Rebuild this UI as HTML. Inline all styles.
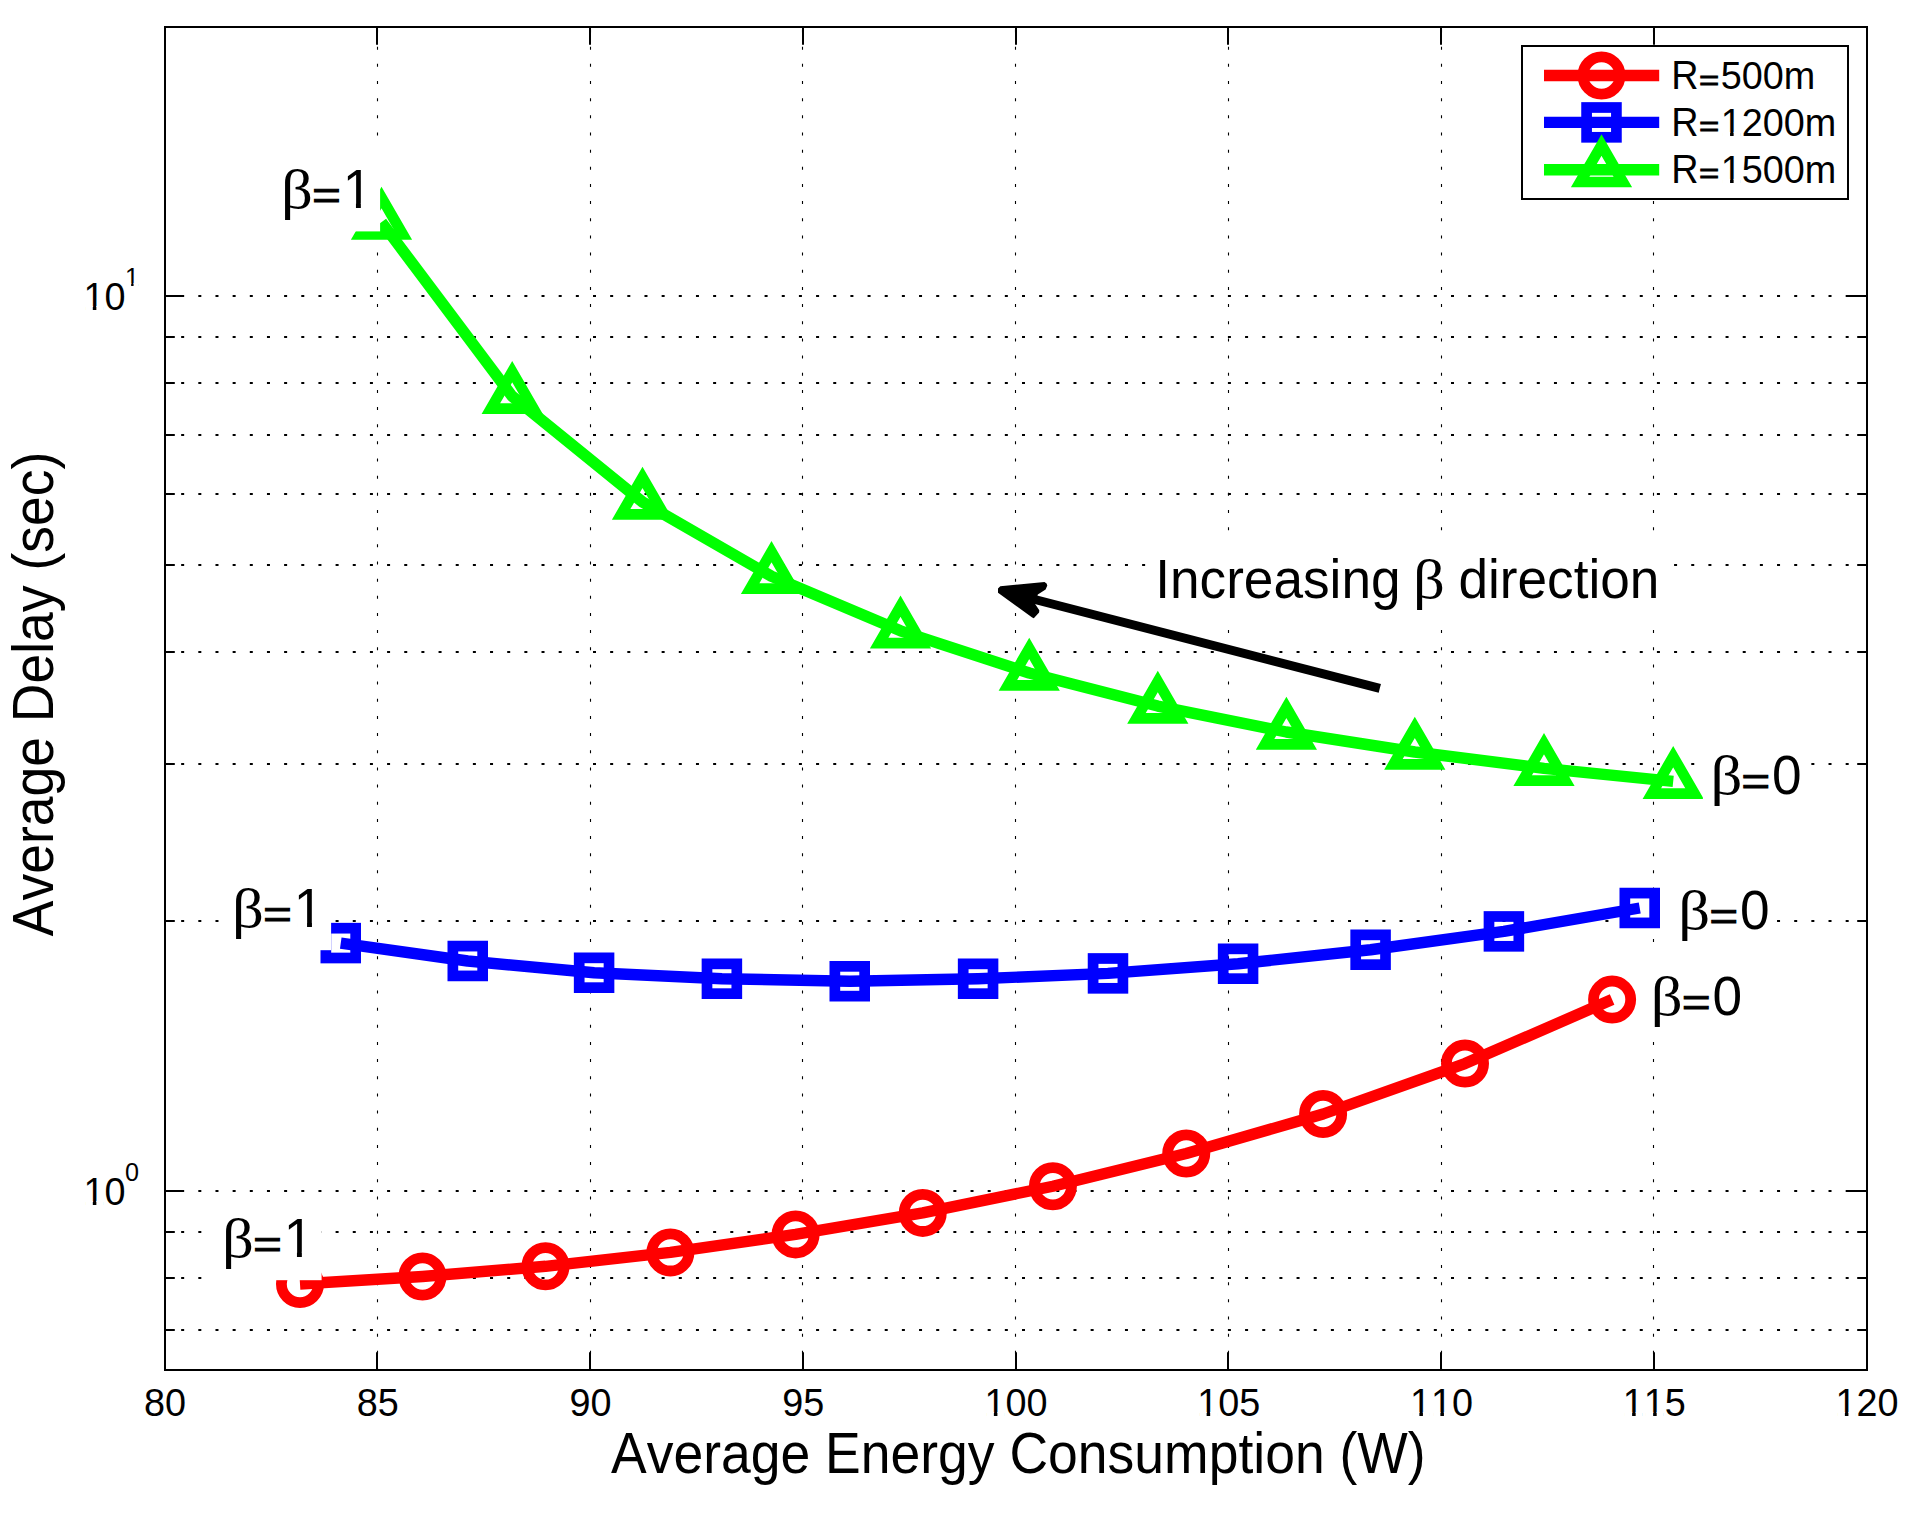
<!DOCTYPE html>
<html><head><meta charset="utf-8"><title>Average Delay vs Average Energy Consumption</title>
<style>html,body{margin:0;padding:0;background:#fff}svg{display:block}text{font-family:"Liberation Sans",sans-serif;fill:#000;font-kerning:none;font-variant-ligatures:none}.sym{font-family:"Liberation Serif","DejaVu Serif",serif}</style></head><body>
<svg width="1910" height="1516" viewBox="0 0 1910 1516">
<rect x="0" y="0" width="1910" height="1516" fill="#fff"/>
<g stroke="#000" fill="none">
<line x1="377.50" y1="1371.00" x2="377.50" y2="27.00" stroke-width="1.1" stroke-dasharray="3 14.16"/>
<line x1="590.50" y1="1371.00" x2="590.50" y2="27.00" stroke-width="1.1" stroke-dasharray="3 14.16"/>
<line x1="802.50" y1="1371.00" x2="802.50" y2="27.00" stroke-width="1.1" stroke-dasharray="3 14.16"/>
<line x1="1015.50" y1="1371.00" x2="1015.50" y2="27.00" stroke-width="1.1" stroke-dasharray="3 14.16"/>
<line x1="1228.50" y1="1371.00" x2="1228.50" y2="27.00" stroke-width="1.1" stroke-dasharray="3 14.16"/>
<line x1="1441.50" y1="1371.00" x2="1441.50" y2="27.00" stroke-width="1.1" stroke-dasharray="3 14.16"/>
<line x1="1653.50" y1="1371.00" x2="1653.50" y2="27.00" stroke-width="1.1" stroke-dasharray="3 14.16"/>
<line x1="181.16" y1="1330.00" x2="1867.00" y2="1330.00" stroke-width="2" stroke-dasharray="3 14.16"/>
<line x1="181.16" y1="1278.00" x2="1867.00" y2="1278.00" stroke-width="2" stroke-dasharray="3 14.16"/>
<line x1="181.16" y1="1232.00" x2="1867.00" y2="1232.00" stroke-width="2" stroke-dasharray="3 14.16"/>
<line x1="181.16" y1="1191.00" x2="1867.00" y2="1191.00" stroke-width="2" stroke-dasharray="3 14.16"/>
<line x1="181.16" y1="921.00" x2="1867.00" y2="921.00" stroke-width="2" stroke-dasharray="3 14.16"/>
<line x1="181.16" y1="764.00" x2="1867.00" y2="764.00" stroke-width="2" stroke-dasharray="3 14.16"/>
<line x1="181.16" y1="652.00" x2="1867.00" y2="652.00" stroke-width="2" stroke-dasharray="3 14.16"/>
<line x1="181.16" y1="565.00" x2="1867.00" y2="565.00" stroke-width="2" stroke-dasharray="3 14.16"/>
<line x1="181.16" y1="494.00" x2="1867.00" y2="494.00" stroke-width="2" stroke-dasharray="3 14.16"/>
<line x1="181.16" y1="435.00" x2="1867.00" y2="435.00" stroke-width="2" stroke-dasharray="3 14.16"/>
<line x1="181.16" y1="383.00" x2="1867.00" y2="383.00" stroke-width="2" stroke-dasharray="3 14.16"/>
<line x1="181.16" y1="337.00" x2="1867.00" y2="337.00" stroke-width="2" stroke-dasharray="3 14.16"/>
<line x1="181.16" y1="296.00" x2="1867.00" y2="296.00" stroke-width="2" stroke-dasharray="3 14.16"/>
</g>
<g stroke="#000" stroke-width="2" fill="none">
<line x1="377.00" y1="1370.0" x2="377.00" y2="1352.3"/>
<line x1="377.00" y1="27.0" x2="377.00" y2="44.7"/>
<line x1="590.00" y1="1370.0" x2="590.00" y2="1352.3"/>
<line x1="590.00" y1="27.0" x2="590.00" y2="44.7"/>
<line x1="803.00" y1="1370.0" x2="803.00" y2="1352.3"/>
<line x1="803.00" y1="27.0" x2="803.00" y2="44.7"/>
<line x1="1016.00" y1="1370.0" x2="1016.00" y2="1352.3"/>
<line x1="1016.00" y1="27.0" x2="1016.00" y2="44.7"/>
<line x1="1228.00" y1="1370.0" x2="1228.00" y2="1352.3"/>
<line x1="1228.00" y1="27.0" x2="1228.00" y2="44.7"/>
<line x1="1441.00" y1="1370.0" x2="1441.00" y2="1352.3"/>
<line x1="1441.00" y1="27.0" x2="1441.00" y2="44.7"/>
<line x1="1654.00" y1="1370.0" x2="1654.00" y2="1352.3"/>
<line x1="1654.00" y1="27.0" x2="1654.00" y2="44.7"/>
<line x1="165.0" y1="1330.00" x2="174.8" y2="1330.00"/>
<line x1="1867.0" y1="1330.00" x2="1857.2" y2="1330.00"/>
<line x1="165.0" y1="1278.00" x2="174.8" y2="1278.00"/>
<line x1="1867.0" y1="1278.00" x2="1857.2" y2="1278.00"/>
<line x1="165.0" y1="1232.00" x2="174.8" y2="1232.00"/>
<line x1="1867.0" y1="1232.00" x2="1857.2" y2="1232.00"/>
<line x1="165.0" y1="1191.00" x2="184.0" y2="1191.00"/>
<line x1="1867.0" y1="1191.00" x2="1848.0" y2="1191.00"/>
<line x1="165.0" y1="921.00" x2="174.8" y2="921.00"/>
<line x1="1867.0" y1="921.00" x2="1857.2" y2="921.00"/>
<line x1="165.0" y1="764.00" x2="174.8" y2="764.00"/>
<line x1="1867.0" y1="764.00" x2="1857.2" y2="764.00"/>
<line x1="165.0" y1="652.00" x2="174.8" y2="652.00"/>
<line x1="1867.0" y1="652.00" x2="1857.2" y2="652.00"/>
<line x1="165.0" y1="565.00" x2="174.8" y2="565.00"/>
<line x1="1867.0" y1="565.00" x2="1857.2" y2="565.00"/>
<line x1="165.0" y1="494.00" x2="174.8" y2="494.00"/>
<line x1="1867.0" y1="494.00" x2="1857.2" y2="494.00"/>
<line x1="165.0" y1="435.00" x2="174.8" y2="435.00"/>
<line x1="1867.0" y1="435.00" x2="1857.2" y2="435.00"/>
<line x1="165.0" y1="383.00" x2="174.8" y2="383.00"/>
<line x1="1867.0" y1="383.00" x2="1857.2" y2="383.00"/>
<line x1="165.0" y1="337.00" x2="174.8" y2="337.00"/>
<line x1="1867.0" y1="337.00" x2="1857.2" y2="337.00"/>
<line x1="165.0" y1="296.00" x2="184.0" y2="296.00"/>
<line x1="1867.0" y1="296.00" x2="1848.0" y2="296.00"/>
<rect x="165.0" y="27.0" width="1702.0" height="1343.0"/>
</g>
<text transform="translate(165.00 1415.90) scale(1 1.035)" font-size="37.8" text-anchor="middle">80</text>
<text transform="translate(377.75 1415.90) scale(1 1.035)" font-size="37.8" text-anchor="middle">85</text>
<text transform="translate(590.50 1415.90) scale(1 1.035)" font-size="37.8" text-anchor="middle">90</text>
<text transform="translate(803.25 1415.90) scale(1 1.035)" font-size="37.8" text-anchor="middle">95</text>
<text transform="translate(1016.00 1415.90) scale(1 1.035)" font-size="37.8" text-anchor="middle">100</text>
<rect x="986.55" y="1411.98" width="7.33" height="4.72" fill="#fff"/>
<rect x="997.41" y="1411.98" width="7.03" height="4.72" fill="#fff"/>
<text transform="translate(1228.75 1415.90) scale(1 1.035)" font-size="37.8" text-anchor="middle">105</text>
<rect x="1199.30" y="1411.98" width="7.33" height="4.72" fill="#fff"/>
<rect x="1210.16" y="1411.98" width="7.03" height="4.72" fill="#fff"/>
<text transform="translate(1441.50 1415.90) scale(1 1.035)" font-size="37.8" text-anchor="middle">110</text>
<rect x="1412.05" y="1411.98" width="7.33" height="4.72" fill="#fff"/>
<rect x="1422.91" y="1411.98" width="7.03" height="4.72" fill="#fff"/>
<rect x="1433.07" y="1411.98" width="7.33" height="4.72" fill="#fff"/>
<rect x="1443.93" y="1411.98" width="7.03" height="4.72" fill="#fff"/>
<text transform="translate(1654.25 1415.90) scale(1 1.035)" font-size="37.8" text-anchor="middle">115</text>
<rect x="1624.80" y="1411.98" width="7.33" height="4.72" fill="#fff"/>
<rect x="1635.66" y="1411.98" width="7.03" height="4.72" fill="#fff"/>
<rect x="1645.82" y="1411.98" width="7.33" height="4.72" fill="#fff"/>
<rect x="1656.68" y="1411.98" width="7.03" height="4.72" fill="#fff"/>
<text transform="translate(1867.00 1415.90) scale(1 1.035)" font-size="37.8" text-anchor="middle">120</text>
<rect x="1837.55" y="1411.98" width="7.33" height="4.72" fill="#fff"/>
<rect x="1848.41" y="1411.98" width="7.03" height="4.72" fill="#fff"/>
<g><text transform="translate(83.40 1204.90) scale(1 1.035)" font-size="37.8">10</text><text transform="translate(124.90 1181.00) scale(1 1.035)" font-size="25.2">0</text></g>
<rect x="85.48" y="1200.98" width="7.33" height="4.72" fill="#fff"/>
<rect x="96.35" y="1200.98" width="7.03" height="4.72" fill="#fff"/>
<g><text transform="translate(83.40 309.90) scale(1 1.035)" font-size="37.8">10</text><text transform="translate(124.90 286.00) scale(1 1.035)" font-size="25.2">1</text></g>
<rect x="85.48" y="305.98" width="7.33" height="4.72" fill="#fff"/>
<rect x="96.35" y="305.98" width="7.03" height="4.72" fill="#fff"/>
<rect x="126.02" y="283.05" width="5.12" height="3.75" fill="#fff"/>
<rect x="133.56" y="283.05" width="4.92" height="3.75" fill="#fff"/>
<text transform="translate(1018.30 1472.80) scale(1 1.055)" font-size="53.5" text-anchor="middle">Average Energy Consumption (W)</text>
<text transform="translate(53.2 694) rotate(-90) scale(1 1.055)" font-size="53.5" text-anchor="middle">Average Delay (sec)</text>
<polyline points="300.00,1284.00 422.50,1276.50 545.50,1266.30 670.40,1252.40 795.60,1234.40 922.75,1212.90 1052.90,1186.25 1186.25,1153.50 1323.10,1114.00 1465.00,1063.60 1612.10,999.60" fill="none" stroke="#f00" stroke-width="11.4" stroke-linejoin="round" stroke-linecap="butt"/>
<circle cx="300.00" cy="1284.00" r="18.6" fill="none" stroke="#f00" stroke-width="10.8"/>
<circle cx="422.50" cy="1276.50" r="18.6" fill="none" stroke="#f00" stroke-width="10.8"/>
<circle cx="545.50" cy="1266.30" r="18.6" fill="none" stroke="#f00" stroke-width="10.8"/>
<circle cx="670.40" cy="1252.40" r="18.6" fill="none" stroke="#f00" stroke-width="10.8"/>
<circle cx="795.60" cy="1234.40" r="18.6" fill="none" stroke="#f00" stroke-width="10.8"/>
<circle cx="922.75" cy="1212.90" r="18.6" fill="none" stroke="#f00" stroke-width="10.8"/>
<circle cx="1052.90" cy="1186.25" r="18.6" fill="none" stroke="#f00" stroke-width="10.8"/>
<circle cx="1186.25" cy="1153.50" r="18.6" fill="none" stroke="#f00" stroke-width="10.8"/>
<circle cx="1323.10" cy="1114.00" r="18.6" fill="none" stroke="#f00" stroke-width="10.8"/>
<circle cx="1465.00" cy="1063.60" r="18.6" fill="none" stroke="#f00" stroke-width="10.8"/>
<circle cx="1612.10" cy="999.60" r="18.6" fill="none" stroke="#f00" stroke-width="10.8"/>
<polyline points="340.75,943.10 467.75,961.00 594.10,972.75 721.90,978.75 849.75,981.25 978.10,978.75 1108.00,973.40 1238.10,963.75 1370.60,949.75 1503.90,931.40 1639.75,908.00" fill="none" stroke="#00f" stroke-width="11.4" stroke-linejoin="round" stroke-linecap="butt"/>
<rect x="325.85" y="928.20" width="29.8" height="29.8" fill="none" stroke="#00f" stroke-width="10.7" stroke-linejoin="miter"/>
<rect x="452.85" y="946.10" width="29.8" height="29.8" fill="none" stroke="#00f" stroke-width="10.7" stroke-linejoin="miter"/>
<rect x="579.20" y="957.85" width="29.8" height="29.8" fill="none" stroke="#00f" stroke-width="10.7" stroke-linejoin="miter"/>
<rect x="707.00" y="963.85" width="29.8" height="29.8" fill="none" stroke="#00f" stroke-width="10.7" stroke-linejoin="miter"/>
<rect x="834.85" y="966.35" width="29.8" height="29.8" fill="none" stroke="#00f" stroke-width="10.7" stroke-linejoin="miter"/>
<rect x="963.20" y="963.85" width="29.8" height="29.8" fill="none" stroke="#00f" stroke-width="10.7" stroke-linejoin="miter"/>
<rect x="1093.10" y="958.50" width="29.8" height="29.8" fill="none" stroke="#00f" stroke-width="10.7" stroke-linejoin="miter"/>
<rect x="1223.20" y="948.85" width="29.8" height="29.8" fill="none" stroke="#00f" stroke-width="10.7" stroke-linejoin="miter"/>
<rect x="1355.70" y="934.85" width="29.8" height="29.8" fill="none" stroke="#00f" stroke-width="10.7" stroke-linejoin="miter"/>
<rect x="1489.00" y="916.50" width="29.8" height="29.8" fill="none" stroke="#00f" stroke-width="10.7" stroke-linejoin="miter"/>
<rect x="1624.85" y="893.10" width="29.8" height="29.8" fill="none" stroke="#00f" stroke-width="10.7" stroke-linejoin="miter"/>
<polyline points="381.50,222.20 512.20,396.30 642.50,502.00 771.50,576.30 900.50,630.80 1029.25,673.00 1157.80,706.10 1286.40,732.00 1414.80,752.00 1544.00,768.30 1673.20,781.30" fill="none" stroke="#0f0" stroke-width="11.4" stroke-linejoin="round" stroke-linecap="butt"/>
<polygon points="381.50,197.56 360.16,234.52 402.84,234.52" fill="none" stroke="#0f0" stroke-width="10.7" stroke-linejoin="miter" stroke-miterlimit="10"/>
<polygon points="512.20,371.66 490.86,408.62 533.54,408.62" fill="none" stroke="#0f0" stroke-width="10.7" stroke-linejoin="miter" stroke-miterlimit="10"/>
<polygon points="642.50,477.36 621.16,514.32 663.84,514.32" fill="none" stroke="#0f0" stroke-width="10.7" stroke-linejoin="miter" stroke-miterlimit="10"/>
<polygon points="771.50,551.66 750.16,588.62 792.84,588.62" fill="none" stroke="#0f0" stroke-width="10.7" stroke-linejoin="miter" stroke-miterlimit="10"/>
<polygon points="900.50,606.16 879.16,643.12 921.84,643.12" fill="none" stroke="#0f0" stroke-width="10.7" stroke-linejoin="miter" stroke-miterlimit="10"/>
<polygon points="1029.25,648.36 1007.91,685.32 1050.59,685.32" fill="none" stroke="#0f0" stroke-width="10.7" stroke-linejoin="miter" stroke-miterlimit="10"/>
<polygon points="1157.80,681.46 1136.46,718.42 1179.14,718.42" fill="none" stroke="#0f0" stroke-width="10.7" stroke-linejoin="miter" stroke-miterlimit="10"/>
<polygon points="1286.40,707.36 1265.06,744.32 1307.74,744.32" fill="none" stroke="#0f0" stroke-width="10.7" stroke-linejoin="miter" stroke-miterlimit="10"/>
<polygon points="1414.80,727.36 1393.46,764.32 1436.14,764.32" fill="none" stroke="#0f0" stroke-width="10.7" stroke-linejoin="miter" stroke-miterlimit="10"/>
<polygon points="1544.00,743.66 1522.66,780.62 1565.34,780.62" fill="none" stroke="#0f0" stroke-width="10.7" stroke-linejoin="miter" stroke-miterlimit="10"/>
<polygon points="1673.20,756.66 1651.86,793.62 1694.54,793.62" fill="none" stroke="#0f0" stroke-width="10.7" stroke-linejoin="miter" stroke-miterlimit="10"/>
<rect x="214.50" y="1195.90" width="107.10" height="84.30" fill="#fff"/>
<g><text class="sym" transform="translate(222.00 1256.90) scale(1.12 1)" font-size="56">β</text><text transform="matrix(0.917 0 0 0.712 253.16 1257.50)" font-size="53.2" stroke="#000" stroke-width="1.53">=</text><text transform="translate(283.67 1256.90) scale(1 1.035)" font-size="53.2">1</text></g>
<rect x="286.92" y="1251.79" width="10.03" height="5.91" fill="#fff"/>
<rect x="301.85" y="1251.79" width="9.61" height="5.91" fill="#fff"/>
<rect x="224.60" y="865.90" width="106.50" height="84.30" fill="#fff"/>
<g><text class="sym" transform="translate(232.10 926.90) scale(1.12 1)" font-size="56">β</text><text transform="matrix(0.917 0 0 0.712 263.26 927.50)" font-size="53.2" stroke="#000" stroke-width="1.53">=</text><text transform="translate(293.77 926.90) scale(1 1.035)" font-size="53.2">1</text></g>
<rect x="297.02" y="921.79" width="10.03" height="5.91" fill="#fff"/>
<rect x="311.95" y="921.79" width="9.61" height="5.91" fill="#fff"/>
<rect x="273.50" y="147.10" width="106.60" height="84.30" fill="#fff"/>
<g><text class="sym" transform="translate(281.00 208.10) scale(1.12 1)" font-size="56">β</text><text transform="matrix(0.917 0 0 0.712 312.16 208.70)" font-size="53.2" stroke="#000" stroke-width="1.53">=</text><text transform="translate(342.67 208.10) scale(1 1.035)" font-size="53.2">1</text></g>
<rect x="345.92" y="202.99" width="10.03" height="5.91" fill="#fff"/>
<rect x="360.85" y="202.99" width="9.61" height="5.91" fill="#fff"/>
<rect x="1643.30" y="954.10" width="105.90" height="84.30" fill="#fff"/>
<g><text class="sym" transform="translate(1650.80 1015.10) scale(1.12 1)" font-size="56">β</text><text transform="matrix(0.917 0 0 0.712 1681.96 1015.70)" font-size="53.2" stroke="#000" stroke-width="1.53">=</text><text transform="translate(1712.47 1015.10) scale(1 1.035)" font-size="53.2">0</text></g>
<rect x="1670.80" y="868.10" width="106.20" height="84.30" fill="#fff"/>
<g><text class="sym" transform="translate(1678.30 929.10) scale(1.12 1)" font-size="56">β</text><text transform="matrix(0.917 0 0 0.712 1709.46 929.70)" font-size="53.2" stroke="#000" stroke-width="1.53">=</text><text transform="translate(1739.97 929.10) scale(1 1.035)" font-size="53.2">0</text></g>
<rect x="1702.90" y="733.00" width="106.30" height="84.30" fill="#fff"/>
<g><text class="sym" transform="translate(1710.40 794.00) scale(1.12 1)" font-size="56">β</text><text transform="matrix(0.917 0 0 0.712 1741.56 794.60)" font-size="53.2" stroke="#000" stroke-width="1.53">=</text><text transform="translate(1772.07 794.00) scale(1 1.035)" font-size="53.2">0</text></g>
<rect x="1148.80" y="536.90" width="522.20" height="84.30" fill="#fff"/>
<g><text transform="translate(1155.20 597.90) scale(1 1.055)" font-size="53.2">Increasing</text> <text class="sym" transform="translate(1413.00 597.90) scale(1.12 1)" font-size="56">β</text> <text transform="translate(1458.40 597.90) scale(1 1.055)" font-size="53.2">direction</text></g>
<line x1="1379.8" y1="688.4" x2="1031" y2="598.5" stroke="#000" stroke-width="9"/>
<polygon points="998,588.6 1000.3,586.3 1044.5,582.1 1046.6,583.4 1047.3,585.5 1045.6,589.6 1037.8,594.6 1035.1,604 1039.3,610.3 1039.1,612.4 1033.8,618.2 1032.2,617.6 998,592.7" fill="#000"/>
<rect x="1522" y="46" width="326" height="153" fill="#fff" stroke="#000" stroke-width="2"/>
<line x1="1544" y1="75.5" x2="1659.2" y2="75.5" stroke="#f00" stroke-width="11.4"/>
<circle cx="1601.50" cy="75.50" r="18.6" fill="none" stroke="#f00" stroke-width="10.8"/>
<g><text transform="translate(1671.30 88.90) scale(1 1.055)" font-size="37.8">R</text><text transform="matrix(0.917 0 0 0.712 1698.99 89.50)" font-size="37.8" stroke="#000" stroke-width="1.09">=</text><text transform="translate(1720.67 88.90) scale(1 1.035)" font-size="37.8">500m</text></g>
<line x1="1544" y1="122.4" x2="1659.2" y2="122.4" stroke="#00f" stroke-width="11.4"/>
<rect x="1586.60" y="107.50" width="29.8" height="29.8" fill="none" stroke="#00f" stroke-width="10.7" stroke-linejoin="miter"/>
<g><text transform="translate(1671.30 135.85) scale(1 1.055)" font-size="37.8">R</text><text transform="matrix(0.917 0 0 0.712 1698.99 136.45)" font-size="37.8" stroke="#000" stroke-width="1.09">=</text><text transform="translate(1720.67 135.85) scale(1 1.035)" font-size="37.8">1200m</text></g>
<rect x="1722.75" y="131.93" width="7.33" height="4.72" fill="#fff"/>
<rect x="1733.62" y="131.93" width="7.03" height="4.72" fill="#fff"/>
<line x1="1544" y1="169.7" x2="1659.2" y2="169.7" stroke="#0f0" stroke-width="11.4"/>
<polygon points="1601.50,145.06 1580.16,182.02 1622.84,182.02" fill="none" stroke="#0f0" stroke-width="10.7" stroke-linejoin="miter" stroke-miterlimit="10"/>
<g><text transform="translate(1671.30 182.80) scale(1 1.055)" font-size="37.8">R</text><text transform="matrix(0.917 0 0 0.712 1698.99 183.40)" font-size="37.8" stroke="#000" stroke-width="1.09">=</text><text transform="translate(1720.67 182.80) scale(1 1.035)" font-size="37.8">1500m</text></g>
<rect x="1722.75" y="178.88" width="7.33" height="4.72" fill="#fff"/>
<rect x="1733.62" y="178.88" width="7.03" height="4.72" fill="#fff"/>
</svg></body></html>
